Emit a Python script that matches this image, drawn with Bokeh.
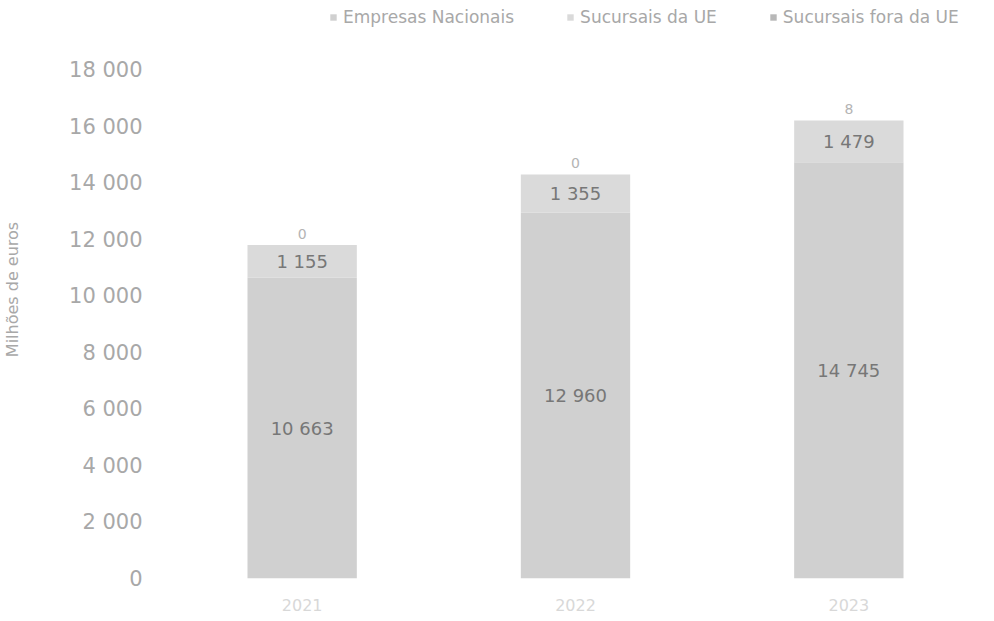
from bokeh.plotting import figure
from bokeh.models import ColumnDataSource, Legend, LegendItem, CustomJSTickFormatter, LabelSet, FixedTicker, Range1d
from bokeh.core.properties import value
from bokeh.embed import file_html
from bokeh.resources import INLINE

years = ["2021", "2022", "2023"]
nacionais = [10663, 12960, 14745]
sucursais_ue = [1155, 1355, 1479]
sucursais_fora = [0, 0, 8]
series_names = ["Empresas Nacionais", "Sucursais da UE", "Sucursais fora da UE"]
colors = ["#d0d0d0", "#dadada", "#b8b8b8"]
y_ticks = list(range(0, 18001, 2000))

def fmt(v):
    return f"{v:,}".replace(",", " ")

src = ColumnDataSource(dict(
    year=years,
    nac=nacionais,
    ue=sucursais_ue,
    fora=sucursais_fora,
    nac_mid=[n / 2 for n in nacionais],
    ue_mid=[n + u / 2 for n, u in zip(nacionais, sucursais_ue)],
    top=[n + u + f for n, u, f in zip(nacionais, sucursais_ue, sucursais_fora)],
    nac_lbl=[fmt(v) for v in nacionais],
    ue_lbl=[fmt(v) for v in sucursais_ue],
    fora_lbl=[fmt(v) for v in sucursais_fora],
))

# frame extends to the top of the canvas so the legend can sit inside it
p = figure(x_range=years, y_range=Range1d(0, 20480), frame_width=820, frame_height=578,
           output_backend="svg", toolbar_location=None,
           min_border_left=163, min_border_right=3, min_border_top=0, min_border_bottom=35)

r = p.vbar_stack(["nac", "ue", "fora"], x="year", width=0.4, source=src,
                 color=colors, line_color=None)

font = "DejaVu Sans"
p.add_layout(LabelSet(x="year", y="nac_mid", text="nac_lbl", source=src,
                      text_align="center", text_baseline="middle",
                      text_font=value(font), text_font_size="18px", text_color="#777777"))
p.add_layout(LabelSet(x="year", y="ue_mid", text="ue_lbl", source=src,
                      text_align="center", text_baseline="middle",
                      text_font=value(font), text_font_size="18px", text_color="#777777"))
p.add_layout(LabelSet(x="year", y="top", text="fora_lbl", source=src, y_offset=6,
                      text_align="center", text_baseline="bottom",
                      text_font=value(font), text_font_size="14px", text_color="#b4b4b4"))

legend = Legend(items=[LegendItem(label=series_names[i], renderers=[r[i]]) for i in range(3)],
                orientation="horizontal", location=(164, 551),
                label_text_font=font, label_text_font_size="17px", label_text_color="#a8a8a8",
                glyph_width=8, glyph_height=8, spacing=52, label_standoff=6,
                border_line_color=None, background_fill_alpha=0, padding=0, margin=0)
p.add_layout(legend, "center")

p.yaxis.ticker = FixedTicker(ticks=y_ticks)
p.yaxis.formatter = CustomJSTickFormatter(code="return tick.toLocaleString('en-US').replace(/,/g, ' ');")
p.yaxis.axis_label = "Milhões de euros"
p.yaxis.axis_label_text_font = font
p.yaxis.axis_label_text_font_style = "normal"
p.yaxis.axis_label_text_font_size = "16px"
p.yaxis.axis_label_text_color = "#a8a8a8"
p.yaxis.axis_label_standoff = 44
for ax in (p.xaxis, p.yaxis):
    ax.axis_line_color = None
    ax.major_tick_line_color = None
    ax.minor_tick_line_color = None
    ax.major_label_text_font = font
p.yaxis.major_label_text_font_size = "21px"
p.yaxis.major_label_text_color = "#a8a8a8"
p.yaxis.major_label_standoff = 17
p.xaxis.major_label_text_font_size = "16px"
p.xaxis.major_label_text_color = "#d8d8d8"
p.xaxis.major_label_standoff = 14

p.xgrid.grid_line_color = None
p.ygrid.grid_line_color = None
p.outline_line_color = None
p.x_range.range_padding = 0

open("out.html", "w").write(file_html(p, INLINE))
